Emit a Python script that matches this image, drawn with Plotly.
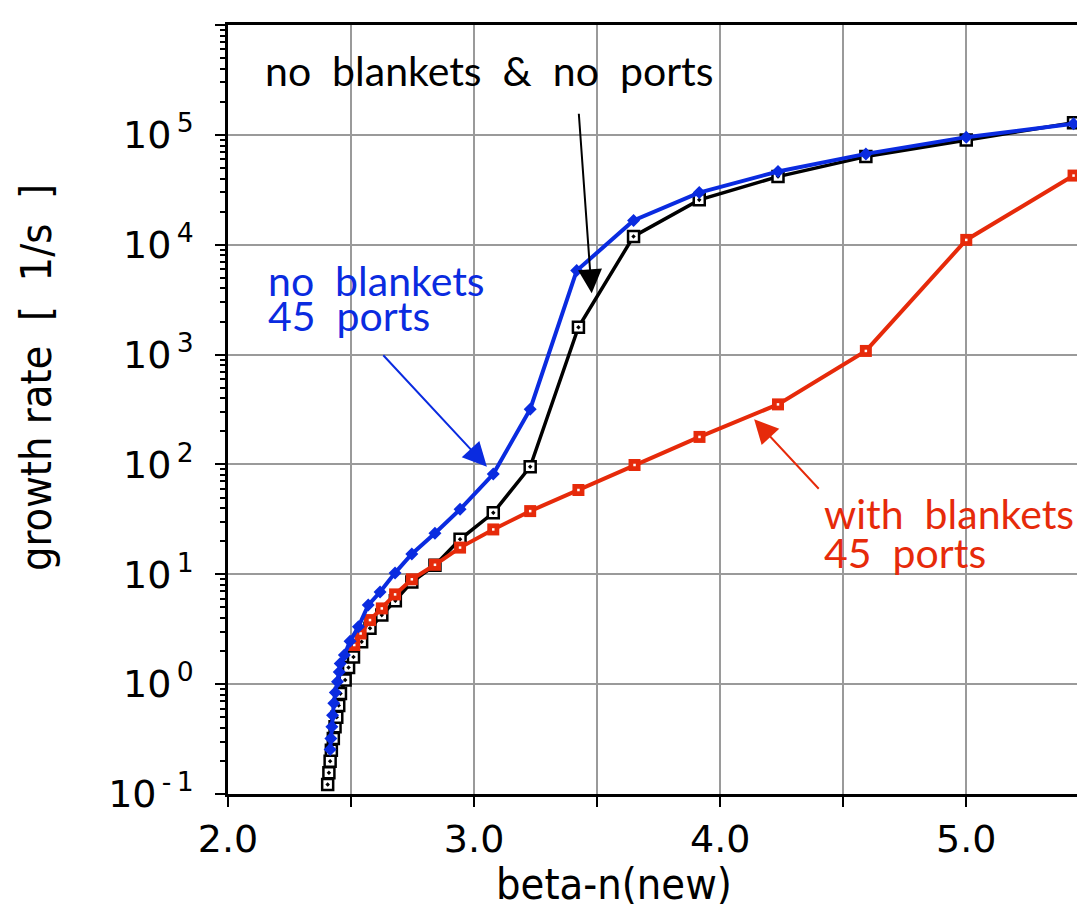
import plotly.graph_objects as go

# ---- data ----
black_x = [2.405, 2.410, 2.415, 2.420, 2.428, 2.435, 2.442, 2.450, 2.457, 2.476, 2.490,
           2.510, 2.543, 2.577, 2.625, 2.680, 2.747, 2.841, 2.943, 3.078, 3.228, 3.424,
           3.648, 3.915, 4.235, 4.592, 5.000, 5.436]
black_y = [0.122, 0.156, 0.199, 0.25, 0.32, 0.41, 0.50, 0.64, 0.82, 1.09, 1.42,
           1.77, 2.43, 3.22, 4.25, 5.74, 8.5, 12.1, 20.8, 36.3, 95.3, 1773,
           11900, 25600, 41700, 63400, 90000, 129000]

blue_x = [2.415, 2.418, 2.422, 2.425, 2.430, 2.436, 2.445, 2.452, 2.456, 2.473, 2.496,
          2.530, 2.570, 2.618, 2.679, 2.747, 2.841, 2.943, 3.078, 3.228, 3.417,
          3.648, 3.915, 4.235, 4.592, 5.000, 5.436]
blue_y = [0.254, 0.32, 0.41, 0.52, 0.67, 0.84, 1.05, 1.29, 1.54, 1.84, 2.46,
          3.33, 5.24, 6.9, 10.3, 15.3, 23.6, 39.0, 81.8, 318, 5810,
          16600, 29800, 46400, 67100, 95300, 126000]

red_x = [2.513, 2.539, 2.577, 2.625, 2.679, 2.747, 2.841, 2.943, 3.078, 3.228, 3.424,
         3.652, 3.916, 4.235, 4.592, 5.000, 5.436]
red_y = [2.27, 2.89, 3.83, 4.89, 6.56, 9.0, 12.2, 17.5, 25.6, 37.6, 58.5,
         98.8, 178, 352, 1079, 11060, 42600]

x_tickvals = [2.0, 2.5, 3.0, 3.5, 4.0, 4.5, 5.0]
x_ticktext = ["2.0", "", "3.0", "", "4.0", "", "5.0"]
y_exponents = [-1, 0, 1, 2, 3, 4, 5, 6]

BLACK = "#000000"
BLUE = "#0a2be0"
RED = "#e62a0a"
GRID = "#9a9a9a"
TICKFONT = "'DejaVu Sans', sans-serif"
LABELFONT = "Lato, 'Open Sans', sans-serif"
NARROW = "'Liberation Sans Narrow', 'DejaVu Sans Condensed', sans-serif"

fig = go.Figure()

fig.add_trace(go.Scatter(
    x=black_x, y=black_y, mode="lines+markers",
    line=dict(color=BLACK, width=3.5),
    marker=dict(symbol="square-dot", size=11, color="white",
                line=dict(color=BLACK, width=2.5)),
    showlegend=False, cliponaxis=False))

fig.add_trace(go.Scatter(
    x=red_x, y=red_y, mode="lines+markers",
    line=dict(color=RED, width=4),
    marker=dict(symbol="square", size=12, color=RED),
    showlegend=False, cliponaxis=False))
fig.add_trace(go.Scatter(
    x=red_x, y=red_y, mode="markers",
    marker=dict(symbol="square", size=2.5, color="white"),
    showlegend=False, cliponaxis=False))

fig.add_trace(go.Scatter(
    x=blue_x, y=blue_y, mode="lines+markers",
    line=dict(color=BLUE, width=4),
    marker=dict(symbol="diamond", size=10, color=BLUE),
    showlegend=False, cliponaxis=False))

minor_vals = [m * 10 ** k for k in range(-1, 6) for m in range(2, 10)]

fig.update_xaxes(
    range=[2.0, 5.45], tickmode="array", tickvals=x_tickvals, ticktext=x_ticktext,
    showgrid=True, gridcolor=GRID, gridwidth=2,
    showline=True, linecolor=BLACK, linewidth=2.5, mirror=True,
    ticks="outside", ticklen=10, tickwidth=2, tickcolor=BLACK,
    tickfont=dict(family=TICKFONT, size=38, color=BLACK),
    zeroline=False)

fig.update_yaxes(
    type="log", range=[-1, 6],
    tickmode="array", tickvals=[10 ** e for e in y_exponents],
    ticktext=["10<sup>%s</sup>" % ("\u2009-\u20091" if e < 0 else "\u2009%d" % e) for e in y_exponents],
    showgrid=True, gridcolor=GRID, gridwidth=2,
    showline=True, linecolor=BLACK, linewidth=2.5,
    ticks="outside", ticklen=10, tickwidth=2, tickcolor=BLACK,
    minor=dict(tickmode="array", tickvals=minor_vals, ticks="outside",
               ticklen=5, tickwidth=1.5, tickcolor=BLACK, showgrid=False),
    tickfont=dict(family=TICKFONT, size=38, color=BLACK),
    ticklabelstandoff=14,
    zeroline=False)

W, H = 1077, 910
L, R, T, B = 228, 0, 25, 116
PW, PH = W - L - R, H - T - B


def px_x(p):
    return (p - L) / PW


def px_y(p):
    return ((H - B) - p) / PH


annotations = [
    # axis titles
    dict(text="beta-n(new)", xref="paper", yref="paper", x=px_x(614),
         y=px_y(884), xanchor="center", yanchor="middle", showarrow=False,
         font=dict(family=NARROW, size=43, color=BLACK)),
    dict(text="growth rate&nbsp; [&nbsp; 1/s&nbsp; ]", xref="paper", yref="paper",
         x=px_x(36), y=px_y(378),
         xanchor="center", yanchor="middle", textangle=-90, showarrow=False,
         font=dict(family=NARROW, size=43, color=BLACK)),
    # labels
    dict(text="no&nbsp; blankets&nbsp; &amp;&nbsp; no&nbsp; ports", x=3.061, y=5.583,
         xref="x", yref="y", xanchor="center", yanchor="middle", showarrow=False,
         font=dict(family=LABELFONT, size=41, color=BLACK)),
    dict(text="no&nbsp; blankets", x=2.154, y=3.670,
         xref="x", yref="y", xanchor="left", yanchor="middle", showarrow=False,
         font=dict(family=LABELFONT, size=41, color=BLUE)),
    dict(text="45&nbsp; ports", x=2.154, y=3.352,
         xref="x", yref="y", xanchor="left", yanchor="middle", showarrow=False,
         font=dict(family=LABELFONT, size=41, color=BLUE)),
    dict(text="with&nbsp; blankets", x=4.415, y=1.557,
         xref="x", yref="y", xanchor="left", yanchor="middle", showarrow=False,
         font=dict(family=LABELFONT, size=41, color=RED)),
    dict(text="45&nbsp; ports", x=4.415, y=1.202,
         xref="x", yref="y", xanchor="left", yanchor="middle", showarrow=False,
         font=dict(family=LABELFONT, size=41, color=RED)),
    # arrows
    dict(text="", x=3.478, y=3.558, xref="x", yref="y", ax=-13, ay=-181,
         showarrow=True, arrowhead=2, arrowsize=2.4, arrowwidth=2, arrowcolor=BLACK),
    dict(text="", x=3.052, y=1.979, xref="x", yref="y", ax=-105, ay=-113,
         showarrow=True, arrowhead=2, arrowsize=2.4, arrowwidth=2, arrowcolor=BLUE),
    dict(text="", x=4.138, y=2.411, xref="x", yref="y", ax=66, ay=71,
         showarrow=True, arrowhead=2, arrowsize=2.4, arrowwidth=2, arrowcolor=RED),
]

# white backing behind the two coloured labels (hides grid lines, as in the original)
shapes = [
    dict(type="rect", xref="paper", yref="paper", layer="between",
         x0=px_x(262), x1=px_x(492), y0=px_y(340), y1=px_y(264),
         fillcolor="white", line=dict(width=0)),
    dict(type="rect", xref="paper", yref="paper", layer="between",
         x0=px_x(818), x1=px_x(1077), y0=px_y(570), y1=px_y(496),
         fillcolor="white", line=dict(width=0)),
]

fig.update_layout(
    width=W, height=H,
    margin=dict(l=L, r=R, t=T, b=B),
    paper_bgcolor="white", plot_bgcolor="white",
    annotations=annotations, shapes=shapes,
    showlegend=False)

fig.write_html("out.html")
